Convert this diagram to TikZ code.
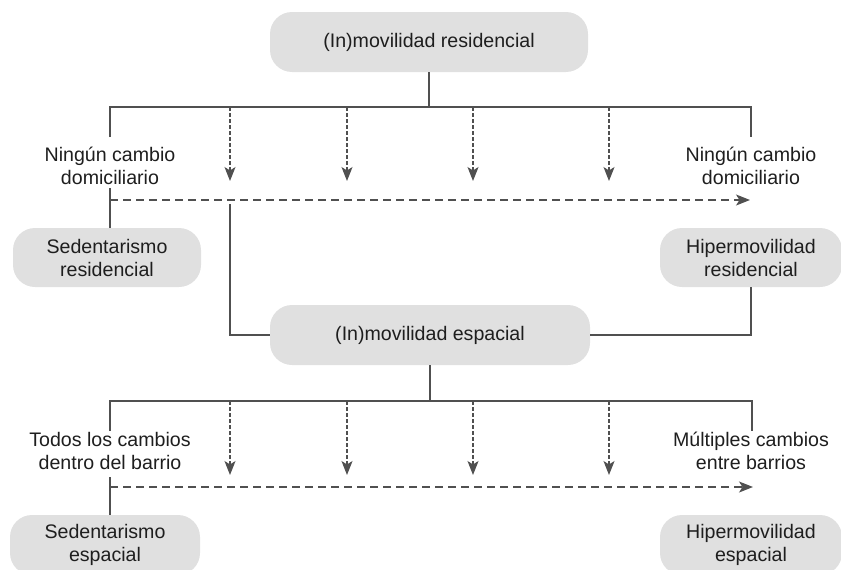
\documentclass[tikz,border=0pt]{standalone}
\usepackage{fontspec}
\setmainfont{Liberation Sans}
\usetikzlibrary{arrows.meta}
\definecolor{boxgray}{HTML}{E0E0E0}
\definecolor{linegray}{HTML}{505050}
\definecolor{txt}{HTML}{1E1E1E}
\begin{document}
\begin{tikzpicture}[x=1pt,y=-1pt,
  every node/.style={font=\fontsize{19.6}{23}\selectfont, text=txt},
  box/.style={fill=boxgray, rounded corners=22pt, align=center, inner sep=0pt},
  lbl/.style={align=center, inner sep=0pt},
  conn/.style={draw=linegray, line width=1.2pt},
  tip/.style={-{Stealth[length=14pt,width=11pt,inset=3.5pt]}},
  darr/.style={conn, tip, dash pattern=on 4pt off 2pt},
  dh/.style={conn, tip, dash pattern=on 8pt off 5pt}]
\useasboundingbox (0,0) rectangle (841,570);

% boxes
\node[box, minimum width=318pt, minimum height=60pt] (top) at (429,42) {(In)movilidad residencial};
\node[box, minimum width=188pt, minimum height=59pt] (sedres) at (107,257.5) {Sedentarismo\\residencial};
\node[box, minimum width=182pt, minimum height=59pt] (hipres) at (751,257.5) {Hipermovilidad\\residencial};
\node[box, minimum width=320pt, minimum height=60pt] (mid) at (430,335) {(In)movilidad espacial};
\node[box, minimum width=190pt, minimum height=60pt] (sedesp) at (105,545) {Sedentarismo\\espacial};
\node[box, minimum width=182pt, minimum height=60pt] (hipesp) at (751,545) {Hipermovilidad\\espacial};

% labels
\node[lbl] (l1) at (110,166) {Ningún cambio\\domiciliario};
\node[lbl] (r1) at (751,166) {Ningún cambio\\domiciliario};
\node[lbl] (l2) at (110,451) {Todos los cambios\\dentro del barrio};
\node[lbl] (r2) at (751,451) {Múltiples cambios\\entre barrios};

% upper section
\coordinate (j1) at (429,107);
\coordinate (a1L) at (110,107);
\coordinate (a1R) at (751,107);
\coordinate (e1L) at (110,137);
\coordinate (e1R) at (751,137);
\draw[conn] (top.south) -- (j1);
\draw[conn] (e1L) -- (a1L) -- (a1R) -- (e1R);
\foreach \x [count=\i] in {230,347,473,609}{
  \coordinate (u\i s) at (\x,107);
  \coordinate (u\i e) at (\x,181);
  \draw[darr] (u\i s) -- (u\i e);
}
\coordinate (b1L) at (110,188);
\draw[conn] (b1L) -- (b1L |- sedres.north);
\coordinate (h1s) at (110,200);
\coordinate (h1e) at (750,200);
\draw[dh] (h1s) -- (h1e);
\coordinate (v1) at (230,204);
\draw[conn] (v1) |- (mid.west);
\draw[conn] (hipres.south) |- (mid.east);

% lower section
\coordinate (j2) at (430,401);
\coordinate (a2L) at (110,401);
\coordinate (a2R) at (752,401);
\coordinate (e2L) at (110,431);
\coordinate (e2R) at (752,431);
\draw[conn] (mid.south) -- (j2);
\draw[conn] (e2L) -- (a2L) -- (a2R) -- (e2R);
\foreach \x [count=\i] in {230,347,473,609}{
  \coordinate (w\i s) at (\x,401);
  \coordinate (w\i e) at (\x,475);
  \draw[darr] (w\i s) -- (w\i e);
}
\coordinate (b2L) at (110,477);
\draw[conn] (b2L) -- (b2L |- sedesp.north);
\coordinate (h2s) at (110,487);
\coordinate (h2e) at (753,487);
\draw[dh] (h2s) -- (h2e);
\end{tikzpicture}
\end{document}
